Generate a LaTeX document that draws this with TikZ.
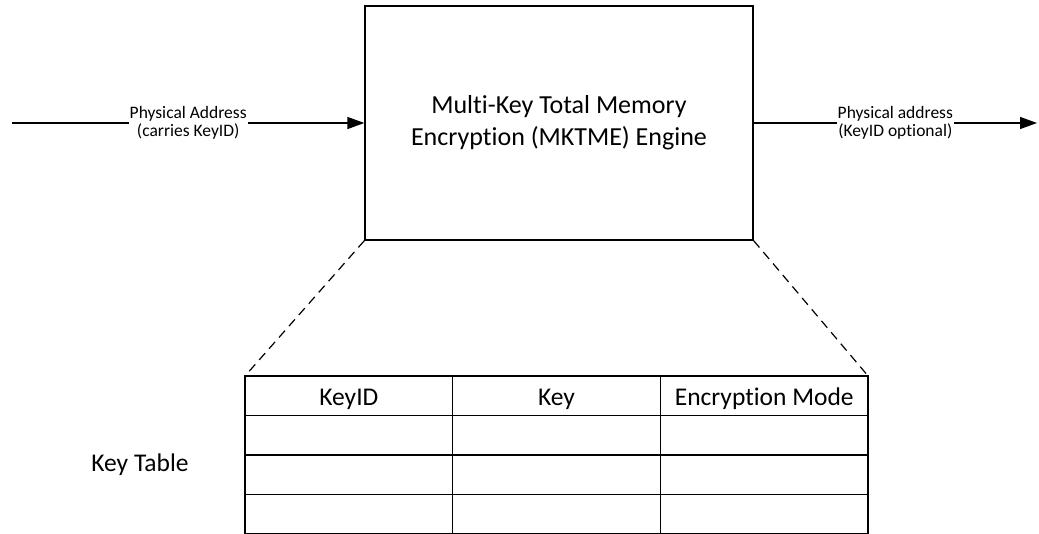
\documentclass[tikz,border=0pt]{standalone}
\usepackage{fontspec}
\setmainfont{Carlito}[Ligatures=NoCommon]
\usetikzlibrary{positioning,arrows.meta,calc}

\begin{document}
\begin{tikzpicture}[x=1pt, y=-1pt, >={Triangle[length=17pt,width=12pt]},
  line width=1.3pt,
  node distance=0pt,
  engine/.style={draw, minimum width=388pt, minimum height=234pt, align=center,
    font=\fontsize{26}{32}\selectfont},
  addr/.style={fill=white, inner sep=1pt, align=center,
    font=\fontsize{17.5}{18}\selectfont},
  cell/.style={draw, minimum width=207.7pt, minimum height=39.5pt, inner sep=0pt,
    outer sep=0pt, text height=21pt, text depth=2pt,
    font=\fontsize{25.5}{28}\selectfont},
  zoomline/.style={dashed, dash pattern=on 9pt off 6pt, line width=1.2pt}]
  \useasboundingbox (0,0) rectangle (1039,534);
  \node[engine] (mk) at (559,123) {Multi-Key Total Memory\\Encryption (MKTME) Engine};
  \coordinate (src) at (12,123);
  \coordinate (dst) at (1037,123);
  \draw[->] (src) -- node[addr, pos=0.5] {Physical Address\\(carries KeyID)} (mk.west);
  \draw[->] (mk.east) -- node[addr, pos=0.5] {Physical address\\(KeyID optional)} (dst);
  % key table
  \node[cell, anchor=north west] (kid) at (245,376) {KeyID};
  \node[cell, right=of kid] (key) {Key};
  \node[cell, right=of key] (mode) {Encryption Mode};
  \foreach \c in {kid,key,mode} {
    \node[cell, below=of \c] (\c1) {};
    \node[cell, below=of \c1] (\c2) {};
    \node[cell, below=of \c2] (\c3) {};
  }
  \node[font=\fontsize{25.5}{28}\selectfont] (kt) at (140,465) {Key Table};
  \draw[zoomline] (mk.south west) -- (kid.north west);
  \draw[zoomline] (mk.south east) -- (mode.north east);
\end{tikzpicture}
\end{document}
